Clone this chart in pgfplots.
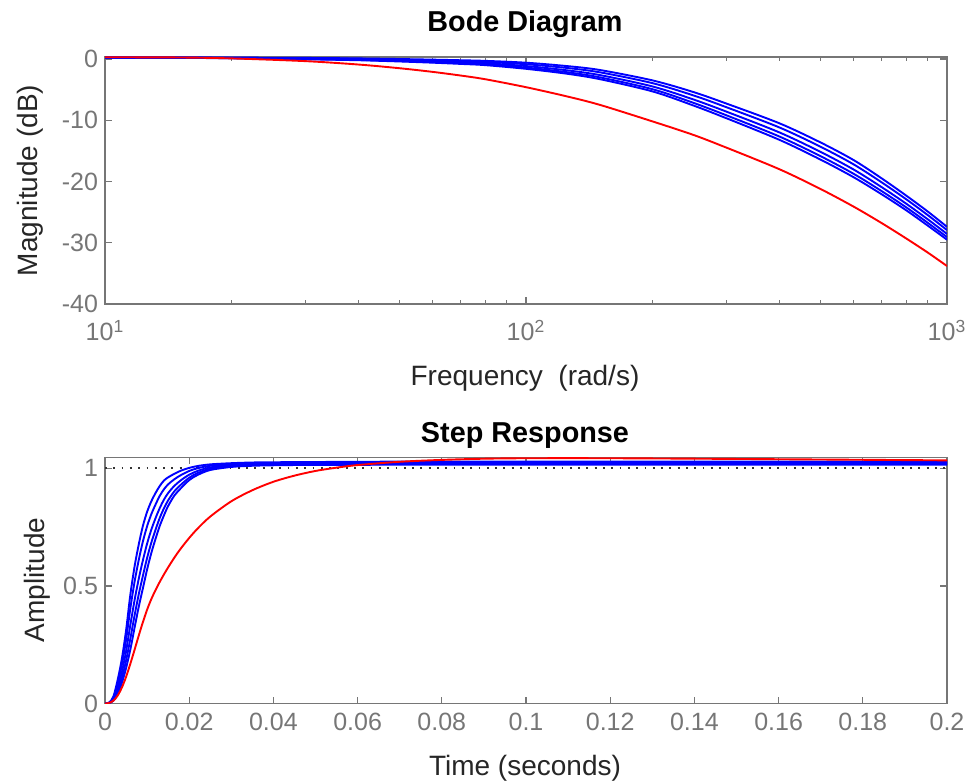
\documentclass[border=0pt]{standalone}
\usepackage{fontspec}
\setmainfont{Liberation Sans}
\usepackage{pgfplots}
\usepackage{pgfplotstable}
\pgfplotsset{compat=1.18}

\definecolor{axgray}{RGB}{118,118,118}
\definecolor{lblgray}{RGB}{38,38,38}

% Bode magnitude (dB): five blue variants and the red one
\pgfplotstableread{
w T M2 M3 M4 Bm R
10 0.25 0.24 0.22 0.21 0.20 0.29
15 0.25 0.23 0.21 0.19 0.18 0.25
20 0.23 0.20 0.17 0.14 0.12 0.10
30 0.18 0.12 0.05 0.00 -0.05 -0.35
40 0.10 0.03 -0.07 -0.14 -0.20 -0.90
50 0.00 -0.10 -0.22 -0.32 -0.40 -1.50
60 -0.10 -0.23 -0.38 -0.50 -0.60 -2.10
70 -0.20 -0.35 -0.53 -0.68 -0.80 -2.70
80 -0.30 -0.48 -0.69 -0.86 -1.00 -3.30
100 -0.60 -0.85 -1.15 -1.40 -1.60 -4.60
125 -1.15 -1.46 -1.84 -2.15 -2.40 -6.10
150 -1.80 -2.18 -2.63 -3.00 -3.30 -7.50
200 -3.50 -3.95 -4.49 -4.94 -5.30 -10.20
250 -5.40 -5.95 -6.61 -7.16 -7.60 -12.40
300 -7.30 -7.90 -8.62 -9.22 -9.70 -14.50
400 -10.50 -11.18 -11.99 -12.66 -13.20 -18.00
500 -13.60 -14.30 -15.14 -15.84 -16.40 -21.20
600 -16.50 -17.20 -18.04 -18.74 -19.30 -24.10
700 -19.50 -20.15 -20.93 -21.58 -22.10 -26.80
800 -22.30 -22.90 -23.62 -24.22 -24.70 -29.30
900 -24.90 -25.48 -26.17 -26.74 -27.20 -31.60
1000 -27.40 -27.93 -28.56 -29.08 -29.50 -33.80
}\bodedata

% step responses, blue variants
\pgfplotstableread{
t B1 B2 B3 B4 B5
0 0 0 0 0 0
0.001 0.004 0.0035 0.0029 0.0024 0.002
0.002 0.030 0.0255 0.0201 0.0156 0.012
0.003 0.100 0.085 0.067 0.052 0.040
0.004 0.190 0.164 0.133 0.108 0.087
0.005 0.310 0.270 0.222 0.182 0.150
0.006 0.460 0.402 0.332 0.274 0.228
0.007 0.580 0.515 0.437 0.372 0.320
0.008 0.675 0.609 0.529 0.463 0.410
0.009 0.755 0.689 0.609 0.543 0.490
0.010 0.815 0.754 0.680 0.619 0.570
0.011 0.860 0.805 0.739 0.684 0.640
0.012 0.895 0.846 0.788 0.739 0.700
0.013 0.925 0.883 0.831 0.789 0.755
0.014 0.948 0.911 0.867 0.830 0.800
0.015 0.962 0.932 0.895 0.864 0.840
0.0165 0.977 0.954 0.926 0.903 0.885
0.018 0.990 0.971 0.949 0.930 0.915
0.020 1.002 0.989 0.973 0.960 0.950
0.022 1.010 1.0005 0.989 0.980 0.972
0.025 1.017 1.011 1.004 0.998 0.993
0.030 1.022 1.018 1.013 1.009 1.006
0.035 1.025 1.0215 1.017 1.014 1.011
0.040 1.026 1.0228 1.019 1.016 1.013
0.050 1.027 1.024 1.020 1.017 1.015
0.060 1.028 1.0248 1.021 1.018 1.015
0.080 1.029 1.0258 1.022 1.019 1.016
0.100 1.029 1.0258 1.022 1.019 1.016
0.150 1.029 1.0258 1.022 1.019 1.016
0.200 1.029 1.0258 1.022 1.019 1.016
}\stepblue

% step response, red
\pgfplotstableread{
t y
0 0
0.001 0.0025
0.002 0.0123
0.003 0.0335
0.004 0.0674
0.005 0.113
0.006 0.168
0.007 0.227
0.008 0.288
0.009 0.346
0.010 0.399
0.011 0.444
0.012 0.482
0.013 0.517
0.014 0.549
0.015 0.579
0.0165 0.621
0.018 0.659
0.020 0.704
0.022 0.744
0.025 0.795
0.030 0.860
0.035 0.907
0.040 0.943
0.045 0.969
0.050 0.989
0.055 1.003
0.060 1.014
0.070 1.028
0.080 1.036
0.090 1.041
0.100 1.043
0.120 1.043
0.150 1.040
0.200 1.034
}\stepred

\pgfplotsset{
  mlab/.style={
    scale only axis, anchor=south west,
    axis line style={axgray, line width=0.7pt},
    every tick/.style={axgray, line width=0.6pt},
    tick align=inside, tick pos=both,
    major tick length=3.5pt, minor tick length=2.2pt,
    tick label style={font=\fontsize{12.5}{14}\selectfont, color=axgray},
    clip=true,
  },
  bl/.style={blue, line width=0.95pt, smooth},
  rd/.style={red, line width=0.95pt, smooth},
}

\begin{document}
\begin{tikzpicture}
\useasboundingbox (0,0) rectangle (486pt,391.5pt);

\begin{axis}[mlab, at={(52.5pt,239.5pt)}, width=421pt, height=123.5pt,
  xmode=log, xmin=10, xmax=1000, ymin=-40, ymax=0.33,
  xtick={10,100,1000},
  xticklabels={10\textsuperscript{1},10\textsuperscript{2},10\textsuperscript{3}},
  xticklabel style={yshift=-4.5pt},
  minor xtick={20,30,40,50,60,70,80,90,200,300,400,500,600,700,800,900},
  ytick={-40,-30,-20,-10,0}, yticklabels={-40,-30,-20,-10,0}]
\addplot[bl] table[x=w, y=T] {\bodedata};
\addplot[bl] table[x=w, y=M2] {\bodedata};
\addplot[bl] table[x=w, y=M3] {\bodedata};
\addplot[bl] table[x=w, y=M4] {\bodedata};
\addplot[bl] table[x=w, y=Bm] {\bodedata};
\addplot[rd] table[x=w, y=R] {\bodedata};
\end{axis}

\begin{axis}[mlab, at={(52.5pt,39.75pt)}, width=421pt, height=123.1pt,
  xmin=0, xmax=0.2, ymin=0, ymax=1.047,
  xtick={0,0.02,0.04,0.06,0.08,0.1,0.12,0.14,0.16,0.18,0.2},
  xticklabels={0,0.02,0.04,0.06,0.08,0.1,0.12,0.14,0.16,0.18,0.2},
  xticklabel style={yshift=-1pt},
  ytick={0,0.5,1}, yticklabels={0,0.5,1}]
\addplot[black!80, line width=0.9pt, dash pattern=on 0.9pt off 3.25pt] coordinates {(0,1) (0.2,1)};
\addplot[bl] table[x=t, y=B1] {\stepblue};
\addplot[bl] table[x=t, y=B2] {\stepblue};
\addplot[bl] table[x=t, y=B3] {\stepblue};
\addplot[bl] table[x=t, y=B4] {\stepblue};
\addplot[bl] table[x=t, y=B5] {\stepblue};
\addplot[rd] table[x=t, y=y] {\stepred};
\end{axis}

\node[anchor=base, font=\bfseries\fontsize{14.4}{16}\selectfont] at (262.5pt,375.5pt) {Bode Diagram};
\node[anchor=base, font=\bfseries\fontsize{14.4}{16}\selectfont] at (262.5pt,170.5pt) {Step Response};
\node[anchor=base, font=\fontsize{14}{16}\selectfont, text=lblgray] at (262.5pt,199pt) {Frequency\ \ (rad/s)};
\node[anchor=base, font=\fontsize{14}{16}\selectfont, text=lblgray] at (262.5pt,4pt) {Time (seconds)};
\node[rotate=90, font=\fontsize{14}{16}\selectfont, text=lblgray] at (15pt,301.25pt) {Magnitude (dB)};
\node[rotate=90, font=\fontsize{14}{16}\selectfont, text=lblgray] at (18.5pt,101.5pt) {Amplitude};
\end{tikzpicture}
\end{document}
